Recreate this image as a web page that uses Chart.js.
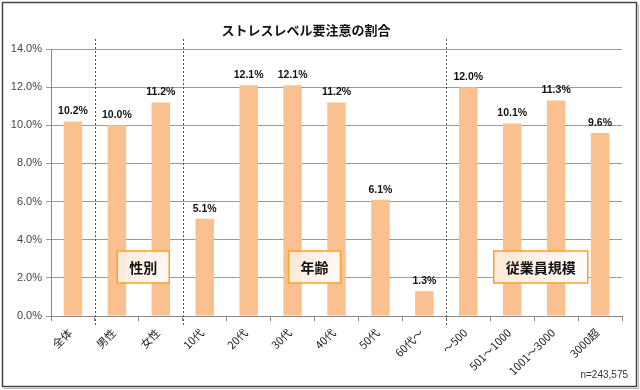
<!DOCTYPE html>
<html><head><meta charset="utf-8">
<script src="https://cdn.jsdelivr.net/npm/chart.js@4/dist/chart.umd.min.js"></script>
<style>html,body{margin:0;padding:0;background:#fff}#wrap{width:640px;height:390px;position:relative}</style>
</head><body><div id="wrap"><canvas id="c" width="640" height="390"></canvas></div>
<script>
const titleText = 'ストレスレベル要注意の割合';
const categories = ['全体','男性','女性','10代','20代','30代','40代','50代','60代～','～500','501～1000','1001～3000','3000超'];
const values = [10.2,10.0,11.2,5.1,12.1,12.1,11.2,6.1,1.3,12.0,10.1,11.3,9.6];
const separators = [0.5, 2.5, 8.5];
const groupLabels = ['性別','年齢','従業員規模'];
const groupPositions = [1.6, 5.5, 10.65];
const noteText = 'n=243,575';

const JP = '"Noto Sans CJK JP", "Liberation Sans", sans-serif';
const NUM = '"Liberation Sans", "Noto Sans CJK JP", sans-serif';

const decor = {
  id: 'decor',
  beforeDraw(chart) {
    const ctx = chart.ctx;
    ctx.save();
    ctx.fillStyle = '#fff';
    ctx.fillRect(0, 0, chart.width, chart.height);
    ctx.restore();
  },
  afterDatasetsDraw(chart) {
    const ctx = chart.ctx;
    const xs = chart.scales.x, ys = chart.scales.y;
    const area = chart.chartArea;
    ctx.save();
    const meta = chart.getDatasetMeta(0);
    ctx.font = 'bold 10.5px ' + NUM;
    ctx.fillStyle = '#111';
    ctx.textAlign = 'center';
    ctx.textBaseline = 'alphabetic';
    meta.data.forEach((bar, i) => {
      ctx.fillText(values[i].toFixed(1) + '%', bar.x, bar.y - 7);
    });
    ctx.strokeStyle = '#555';
    ctx.lineWidth = 1;
    ctx.setLineDash([2, 2]);
    separators.forEach(s => {
      const x = Math.round(xs.getPixelForValue(s)) + 0.5;
      ctx.beginPath();
      ctx.moveTo(x, area.top - 10);
      ctx.lineTo(x, area.bottom + 11);
      ctx.stroke();
    });
    ctx.setLineDash([]);
    ctx.font = 'bold 14px ' + JP;
    const cy = ys.getPixelForValue(2.57);
    groupLabels.forEach((t, i) => {
      const cx = xs.getPixelForValue(groupPositions[i]);
      const w = ctx.measureText(t).width + 24;
      const h = 32;
      const x0 = cx - w / 2, y0 = cy - h / 2;
      const g = ctx.createLinearGradient(x0, y0, x0 + w, y0 + h);
      g.addColorStop(0, 'rgba(253,232,212,0.95)');
      g.addColorStop(1, 'rgba(255,255,255,0.95)');
      ctx.fillStyle = g;
      ctx.fillRect(x0, y0, w, h);
      ctx.strokeStyle = '#F5A22E';
      ctx.lineWidth = 1.5;
      ctx.strokeRect(x0, y0, w, h);
      ctx.fillStyle = '#111';
      ctx.textAlign = 'center';
      ctx.textBaseline = 'middle';
      ctx.fillText(t, cx, cy + 1);
    });
    ctx.font = 'bold 13px ' + JP;
    ctx.fillStyle = '#111';
    ctx.textAlign = 'center';
    ctx.textBaseline = 'middle';
    ctx.fillText(titleText, 306, 30);
    ctx.font = '10px ' + NUM;
    ctx.fillStyle = '#333';
    ctx.textAlign = 'right';
    ctx.fillText(noteText, 628, 375);
    ctx.strokeStyle = '#444';
    ctx.lineWidth = 1.5;
    ctx.strokeRect(2.5, 2.5, 634, 384);
    ctx.strokeStyle = '#bbb';
    ctx.lineWidth = 1;
    ctx.beginPath();
    ctx.moveTo(638.5, 4); ctx.lineTo(638.5, 388.5); ctx.lineTo(4, 388.5);
    ctx.stroke();
    ctx.restore();
  }
};

new Chart(document.getElementById('c'), {
  type: 'bar',
  data: {
    labels: categories,
    datasets: [{
      data: values,
      backgroundColor: '#FAC090',
      borderWidth: 0,
      categoryPercentage: 1,
      barPercentage: 0.42
    }]
  },
  options: {
    responsive: false,
    animation: false,
    devicePixelRatio: 1,
    layout: { padding: { top: 49, right: 18, left: 0, bottom: 0 } },
    plugins: { legend: { display: false }, title: { display: false }, tooltip: { enabled: false } },
    scales: {
      x: {
        afterFit(s) { s.height = 74; },
        grid: { display: true, drawOnChartArea: false, drawTicks: true, tickLength: 5, color: '#888', offset: true },
        border: { display: true, color: '#888', width: 1 },
        ticks: {
          minRotation: 45, maxRotation: 45, autoSkip: false, padding: 5, labelOffset: -3,
          color: '#222', font: { family: JP, size: 11 }
        }
      },
      y: {
        min: 0, max: 14,
        afterFit(s) { s.width = 51; },
        grid: { color: '#9a9a9a', lineWidth: 1, tickLength: 5, drawTicks: true },
        border: { display: true, color: '#888', width: 1 },
        ticks: {
          stepSize: 2, padding: 4, color: '#444',
          font: { family: NUM, size: 11 },
          callback: v => v.toFixed(1) + '%'
        }
      }
    }
  },
  plugins: [decor]
});
</script></body></html>
